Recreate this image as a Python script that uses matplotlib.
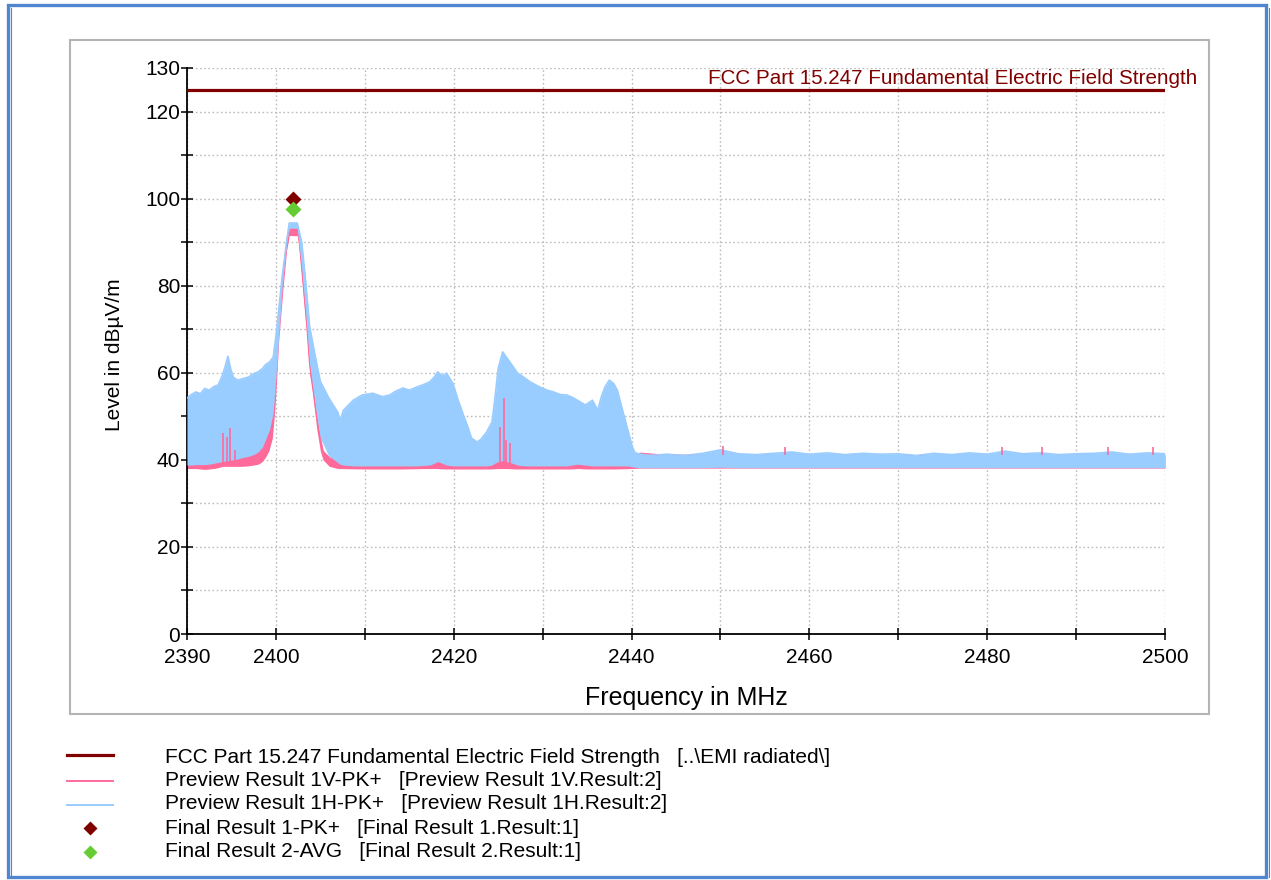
import numpy as np
import matplotlib
matplotlib.use('Agg')
import matplotlib.pyplot as plt
from matplotlib.patches import Rectangle
from matplotlib.lines import Line2D

plt.rcParams['font.family'] = ['Liberation Sans', 'DejaVu Sans']

# ---------------- data ----------------
limit_level = 125.0
limit_label = "FCC Part 15.247 Fundamental Electric Field Strength"

# Preview Result 1H-PK+ (light blue): frequency, upper and lower edge of the trace band
blue_freq = [2390.0, 2390.5, 2391.0, 2391.5, 2392.0, 2392.5, 2393.0, 2393.5, 2394.0, 2394.3,
             2394.6, 2394.9, 2395.2, 2395.7, 2396.2, 2396.9, 2397.5, 2398.0, 2398.5, 2398.8,
             2399.3, 2399.7, 2400.1, 2400.7, 2401.2, 2401.5, 2402.4, 2402.9, 2403.3, 2403.8,
             2404.6, 2405.0, 2405.9, 2407.0, 2407.2, 2407.6, 2408.7, 2409.7, 2410.9, 2412.0,
             2412.8, 2413.5, 2414.3, 2415.0, 2415.8, 2416.5, 2417.3, 2417.8, 2418.2, 2418.7,
             2419.2, 2419.9, 2420.5, 2421.0, 2421.6, 2422.0, 2422.6, 2423.0, 2423.7, 2424.3,
             2424.6, 2425.0, 2425.5, 2426.3, 2427.2, 2428.0, 2428.6, 2429.7, 2430.5, 2431.2,
             2432.0, 2432.7, 2433.3, 2433.9, 2434.8, 2435.6, 2436.2, 2436.6, 2437.0, 2437.5,
             2438.0, 2438.4, 2438.9, 2439.5, 2440.1, 2440.4, 2441.0, 2442.0, 2444.0, 2446.0,
             2448.0, 2450.0, 2452.0, 2454.0, 2456.0, 2458.0, 2460.0, 2462.0, 2464.0, 2466.0,
             2468.0, 2470.0, 2472.0, 2474.0, 2476.0, 2478.0, 2480.0, 2482.0, 2484.0, 2486.0,
             2488.0, 2490.0, 2492.0, 2494.0, 2496.0, 2498.0, 2500.0]
blue_hi = [54.2, 55.0, 55.6, 55.2, 56.4, 56.0, 56.8, 57.2, 59.5, 61.5,
           63.8, 61.0, 59.0, 58.3, 58.6, 59.0, 59.8, 60.2, 61.0, 61.8,
           62.5, 63.6, 70.0, 82.0, 90.0, 94.4, 94.4, 90.0, 82.0, 70.5,
           62.0, 58.0, 54.4, 50.8, 49.0, 51.4, 53.7, 54.9, 55.3, 54.5,
           54.9, 55.8, 56.5, 56.0, 56.7, 57.2, 57.9, 59.0, 60.2, 59.3,
           59.9, 57.6, 53.7, 50.8, 47.5, 45.0, 44.1, 44.6, 46.4, 48.7,
           53.5, 61.0, 64.8, 62.5, 59.9, 58.8, 57.9, 56.7, 56.0, 55.6,
           55.0, 54.9, 54.4, 53.7, 52.6, 53.7, 51.4, 54.5, 56.7, 58.3,
           57.5, 56.0, 52.1, 47.5, 42.9, 41.6, 41.3, 41.0, 41.3, 41.0,
           41.5, 42.3, 41.4, 41.2, 41.5, 41.8, 41.3, 41.6, 41.2, 41.5,
           41.3, 41.4, 41.0, 41.5, 41.2, 41.6, 41.3, 42.0, 41.4, 41.6,
           41.2, 41.4, 41.5, 41.8, 41.3, 41.6, 41.4]
blue_lo = [38.8, 38.8, 38.9, 38.9, 38.9, 39.0, 39.2, 39.4, 39.6, 39.7,
           39.8, 39.9, 40.0, 40.2, 40.5, 40.8, 41.2, 41.8, 43.0, 44.5,
           47.0, 51.0, 62.0, 80.0, 90.0, 93.2, 93.2, 84.0, 75.0, 62.0,
           50.0, 45.0, 41.0, 39.3, 39.0, 38.8, 38.6, 38.6, 38.6, 38.6,
           38.6, 38.6, 38.6, 38.6, 38.6, 38.7, 38.8, 39.2, 39.6, 39.2,
           38.8, 38.6, 38.6, 38.6, 38.6, 38.6, 38.6, 38.6, 38.6, 38.8,
           39.2, 39.6, 39.8, 39.4, 38.8, 38.6, 38.6, 38.6, 38.6, 38.6,
           38.6, 38.6, 38.8, 39.0, 38.8, 38.6, 38.6, 38.6, 38.6, 38.6,
           38.6, 38.6, 38.6, 38.6, 38.4, 38.3, 38.2, 38.2, 38.2, 38.2,
           38.2, 38.3, 38.2, 38.2, 38.2, 38.2, 38.2, 38.2, 38.2, 38.2,
           38.2, 38.2, 38.2, 38.2, 38.2, 38.2, 38.2, 38.2, 38.2, 38.2,
           38.2, 38.2, 38.2, 38.2, 38.2, 38.2, 38.2]

# Preview Result 1V-PK+ (pink)
pink_freq = [2390.0, 2391.0, 2392.0, 2393.0, 2393.5, 2394.0, 2395.0, 2396.0, 2396.8, 2397.5,
             2398.0, 2398.4, 2398.8, 2399.2, 2399.6, 2399.9, 2400.1, 2400.3, 2400.8, 2401.2,
             2401.5, 2402.4, 2402.6, 2403.0, 2403.5, 2403.8, 2404.1, 2404.6, 2405.0, 2405.3,
             2406.0, 2407.0, 2410.0, 2414.0, 2417.0, 2418.0, 2419.0, 2422.0, 2424.0, 2425.0,
             2426.0, 2427.0, 2430.0, 2433.0, 2434.0, 2435.0, 2438.0, 2440.0, 2441.0, 2444.0,
             2448.0, 2452.0, 2456.0, 2460.0, 2464.0, 2468.0, 2472.0, 2476.0, 2480.0, 2484.0,
             2488.0, 2492.0, 2496.0, 2500.0]
pink_hi = [39.5, 39.8, 39.6, 40.0, 40.7, 40.5, 40.8, 41.0, 41.2, 41.5,
           42.0, 43.0, 45.0, 47.5, 50.0, 56.0, 62.0, 70.0, 82.0, 90.0,
           93.2, 93.2, 91.0, 82.0, 70.5, 62.0, 58.0, 50.0, 45.0, 42.0,
           40.5, 40.0, 39.6, 39.8, 40.2, 41.0, 40.0, 39.6, 40.0, 41.5,
           40.8, 39.8, 39.8, 40.0, 40.2, 39.8, 39.8, 40.5, 41.5, 41.0,
           41.1, 41.0, 41.2, 41.0, 41.1, 41.0, 40.9, 41.1, 41.0, 41.1,
           41.0, 41.2, 41.0, 41.1]
pink_lo = [38.0, 38.0, 37.8, 38.0, 38.2, 38.5, 38.5, 38.5, 38.6, 38.8,
           39.0, 39.5, 40.5, 42.0, 45.0, 52.0, 59.0, 67.0, 79.5, 88.0,
           91.5, 91.5, 89.0, 80.0, 68.0, 59.5, 55.5, 47.0, 42.0, 40.0,
           38.5, 38.0, 37.9, 37.9, 38.0, 38.0, 37.9, 37.9, 37.9, 38.0,
           38.0, 37.9, 37.9, 37.9, 38.0, 37.9, 37.9, 38.0, 38.1, 38.1,
           38.1, 38.1, 38.1, 38.1, 38.1, 38.1, 38.1, 38.1, 38.1, 38.1,
           38.1, 38.1, 38.1, 38.1]
# isolated spikes of the pink trace
spike_freq = [2394.0, 2394.5, 2394.8, 2395.4, 2425.2, 2425.6, 2425.9, 2426.3,
              2450.3, 2457.3, 2481.7, 2486.2, 2493.6, 2498.7]
spike_top = [46.2, 45.2, 47.3, 42.3, 47.5, 54.2, 44.6, 43.9,
             43.2, 42.9, 42.9, 43.0, 42.9, 42.9]
spike_base = [39.0, 39.0, 39.0, 39.0, 39.0, 39.0, 39.0, 39.0,
              41.0, 41.0, 41.0, 41.0, 41.0, 41.0]

# Final results
final_freq = [2401.9]
final_pk = [100.0]
final_avg = [97.6]

x_ticks = [2390, 2400, 2410, 2420, 2430, 2440, 2450, 2460, 2470, 2480, 2490, 2500]
x_tick_labels = ['2390', '2400', '', '2420', '', '2440', '', '2460', '', '2480', '', '2500']
y_ticks = [0, 20, 40, 60, 80, 100, 120, 130]
y_minor = [10, 30, 50, 70, 90, 110]

legend_labels = [
    "FCC Part 15.247 Fundamental Electric Field Strength   [..\\EMI radiated\\]",
    "Preview Result 1V-PK+   [Preview Result 1V.Result:2]",
    "Preview Result 1H-PK+   [Preview Result 1H.Result:2]",
    "Final Result 1-PK+   [Final Result 1.Result:1]",
    "Final Result 2-AVG   [Final Result 2.Result:1]",
]

# ---------------- styling ----------------
DARKRED = '#800000'
PINK = '#FF6A9A'
BLUE = '#99CCFF'
GREEN = '#66CC33'

W, H = 1271, 880
fig = plt.figure(figsize=(W / 100, H / 100), dpi=100)
fig.patch.set_facecolor('white')

def fx(x):
    return x / W

def fy(y):
    return 1 - y / H

# outer blue frame
fig.patches.append(Rectangle((fx(8), fy(877)), fx(1266) - fx(8), fy(5) - fy(877),
                             transform=fig.transFigure, fill=False, ec='#4F86CF', lw=2.4))
fig.add_artist(Line2D([fx(11), fx(11)], [fy(8), fy(877)], color='#4F86CF', lw=0.8))
fig.add_artist(Line2D([fx(1269), fx(1269)], [fy(8), fy(877)], color='#4F86CF', lw=0.8))
# gray inner panel
fig.patches.append(Rectangle((fx(70), fy(714)), fx(1209) - fx(70), fy(40) - fy(714),
                             transform=fig.transFigure, fill=False, ec='#B4B4B4', lw=1.5))

ax = fig.add_axes([fx(187), fy(634), fx(1165) - fx(187), fy(68) - fy(634)])
ax.set_xlim(2390, 2500)
ax.set_ylim(0, 130)

ax.fill_between(pink_freq, pink_lo, pink_hi, color=PINK, lw=0, zorder=2)
ax.plot(pink_freq, pink_hi, color=PINK, lw=1.0, zorder=2.5)
ax.fill_between(blue_freq, blue_lo, blue_hi, color=BLUE, lw=0, zorder=3)
ax.plot(blue_freq, blue_hi, color=BLUE, lw=1.2, zorder=4)
ax.vlines(spike_freq, spike_base, spike_top, color=PINK, lw=1.2, zorder=5)

ax.axhline(limit_level, color=DARKRED, lw=2.3, zorder=6)
ax.plot(final_freq, final_pk, 'D', color=DARKRED, ms=8, mec='none', zorder=7)
ax.plot(final_freq, final_avg, 'D', color=GREEN, ms=8, mec='none', zorder=8)

ax.set_xticks(x_ticks)
ax.set_xticklabels(x_tick_labels)
ax.set_yticks(y_ticks)
ax.set_yticks(y_minor, minor=True)
ax.grid(True, which='both', axis='y', color='#BDBDBD', ls=(0, (1.2, 1.8)), lw=1.0)
ax.grid(True, which='major', axis='x', color='#BDBDBD', ls=(0, (1.2, 1.8)), lw=1.0)
ax.set_axisbelow(True)
for s in ['top', 'right']:
    ax.spines[s].set_visible(False)
for s in ['left', 'bottom']:
    ax.spines[s].set_color('black')
    ax.spines[s].set_linewidth(1.3)
ax.tick_params(axis='both', which='both', direction='inout', length=8, width=1.1,
               colors='black', labelsize=15)
ax.tick_params(axis='y', which='minor', length=8)
ax.tick_params(axis='y', pad=1)
ax.tick_params(axis='x', pad=6)

fig.text(fx(115), fy(355), "Level in dB\u00b5V/m", rotation=90, ha='center', va='center', fontsize=15)
fig.text(fx(686), fy(698), "Frequency in MHz", ha='center', va='center', fontsize=18)
fig.text(fx(1197), fy(78), limit_label, ha='right', va='center', fontsize=14.85, color=DARKRED)

# legend
rows_y = [757, 780, 803, 828, 851]
fig.add_artist(Line2D([fx(67), fx(113)], [fy(755), fy(755)], color=DARKRED, lw=2.3))
fig.add_artist(Line2D([fx(67), fx(113)], [fy(781), fy(781)], color=PINK, lw=1.4))
fig.add_artist(Line2D([fx(67), fx(113)], [fy(805), fy(805)], color=BLUE, lw=1.4))
fig.add_artist(Line2D([fx(90)], [fy(828)], marker='D', color=DARKRED, ms=7.5, mec='none', ls='none'))
fig.add_artist(Line2D([fx(90)], [fy(852)], marker='D', color=GREEN, ms=7.5, mec='none', ls='none'))
for lab, yy in zip(legend_labels, rows_y):
    fig.text(fx(165), fy(yy), lab, ha='left', va='center', fontsize=15)

fig.savefig('out.png', dpi=100, facecolor='white')
